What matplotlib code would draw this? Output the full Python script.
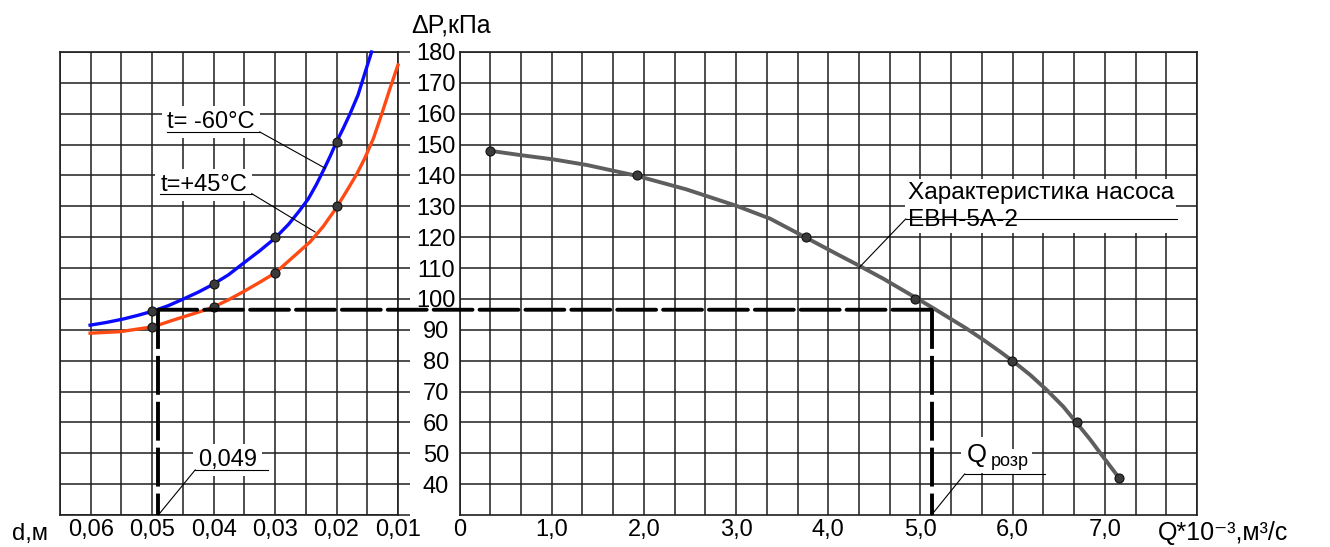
import numpy as np
import matplotlib
matplotlib.use("Agg")
import matplotlib.pyplot as plt
from matplotlib.patches import ConnectionPatch

plt.rcParams["font.family"] = ["Liberation Sans", "DejaVu Sans"]

# values
# pipeline losses vs pipe diameter, t = -60 C
d_cold = [0.0601, 0.0574, 0.0547, 0.0523, 0.0498, 0.0474, 0.0449, 0.0425,
          0.0401, 0.0376, 0.0352, 0.0325, 0.0300, 0.0278, 0.0261, 0.0246,
          0.0233, 0.0220, 0.0210, 0.0200, 0.0189, 0.0178, 0.0165, 0.0154,
          0.0143]
dp_cold = [91.5, 92.4, 93.5, 94.7, 96.1, 97.8, 100.0, 102.2,
           104.7, 107.8, 111.5, 115.6, 119.7, 124.2, 128.4, 132.4,
           137.0, 142.2, 146.4, 150.9, 155.3, 160.0, 166.1, 173.1,
           180.0]
# t = +45 C
d_hot = [0.0601, 0.0552, 0.0525, 0.0498, 0.0474, 0.0449, 0.0425, 0.0401,
         0.0376, 0.0352, 0.0325, 0.0300, 0.0270, 0.0243, 0.0222, 0.0200,
         0.0181, 0.0167, 0.0154, 0.0140, 0.0127, 0.0113, 0.0100]
dp_hot = [88.9, 89.4, 90.2, 91.0, 92.6, 94.2, 95.7, 97.3,
          99.7, 102.3, 105.4, 108.4, 113.7, 118.5, 123.4, 129.6,
          135.8, 140.5, 145.6, 152.0, 159.6, 168.2, 175.8]
d_pts = [0.05, 0.04, 0.03, 0.02]
dp_cold_pts = [96, 105, 120, 151]
dp_hot_pts = [91, 97.5, 108.5, 130]

# pump characteristic EBH-5A-2
q_pump = [0.33, 0.66, 1.02, 1.38, 1.92, 2.46, 3.01, 3.37, 3.75, 4.09,
          4.34, 4.60, 4.96, 5.14, 5.32, 5.50, 5.68, 5.86, 6.01, 6.19,
          6.37, 6.55, 6.69, 6.84, 6.98, 7.15]
dp_pump = [148.0, 146.6, 145.2, 143.4, 139.9, 135.5, 130.1, 126.0, 120.0, 114.6,
           110.7, 106.5, 100.2, 97.0, 93.7, 90.4, 86.8, 83.0, 79.7, 75.4,
           70.5, 65.1, 60.0, 54.5, 48.9, 42.2]
q_pts = [0.33, 1.92, 3.76, 4.94, 5.99, 6.70, 7.15]
dp_pump_pts = [148, 140, 120, 100, 80, 60, 42]

# operating point
d_op = 0.049
q_op = 5.12
dp_op = 96.5

d_ticks = [0.06, 0.05, 0.04, 0.03, 0.02, 0.01]
d_labels = ["0,06", "0,05", "0,04", "0,03", "0,02", "0,01"]
q_ticks = [0, 1, 2, 3, 4, 5, 6, 7]
q_labels = ["0", "1,0", "2,0", "3,0", "4,0", "5,0", "6,0", "7,0"]
dp_ticks = list(range(40, 181, 10))

W, H = 1330, 547
fig = plt.figure(figsize=(W / 100, H / 100), dpi=100)
bot, top = 1 - 515 / H, 1 - 52 / H
axl = fig.add_axes([60 / W, bot, (398 - 60) / W, top - bot])
axr = fig.add_axes([459.5 / W, bot, (1197 - 459.5) / W, top - bot])

GRID = dict(color="#1e1e1e", lw=1.1)
FS = 17

for ax in (axl, axr):
    ax.set_ylim(30, 180)
    ax.set_yticks(range(30, 181, 10))
    ax.set_axisbelow(True)
    ax.grid(True, which="both", **GRID)
    for sp in ax.spines.values():
        sp.set_linewidth(1.2)
        sp.set_color("#1e1e1e")

# left panel: diameter, reversed
axl.set_xlim(0.065, 0.01)
axl.set_xticks(d_ticks)
axl.set_xticklabels(d_labels, fontsize=FS)
axl.set_xticks(np.arange(0.01, 0.0651, 0.005), minor=True)
axl.tick_params(axis="x", which="both", length=0, pad=3)
axl.tick_params(axis="y", left=False, right=True, labelleft=False,
                length=8.6, width=1.1, color="#1e1e1e", direction="out")

# right panel: flow
axr.set_xlim(0, 8)
axr.set_xticks(q_ticks)
axr.set_xticklabels(q_labels, fontsize=FS)
axr.set_xticks(np.arange(0, 8.01, 1 / 3), minor=True)
axr.tick_params(axis="x", which="both", length=0, pad=3)
axr.set_yticks(dp_ticks)
axr.set_yticklabels([str(v) for v in dp_ticks], fontsize=FS)
axr.tick_params(axis="y", length=0, pad=17)
for lb in axr.get_yticklabels():
    lb.set_ha("center")

# curves
axl.plot(d_cold, dp_cold, color="#0a0aff", lw=2.4, zorder=4, clip_on=False,
         solid_joinstyle="round")
axl.plot(d_hot, dp_hot, color="#ff4a14", lw=2.4, zorder=4, clip_on=False,
         solid_joinstyle="round")
DOT = dict(ls="none", marker="o", ms=6.5, mfc="#3a3a3a", mec="#111111",
           mew=0.8, zorder=6, clip_on=False)
axl.plot(d_pts, dp_cold_pts, **DOT)
axl.plot(d_pts, dp_hot_pts, **DOT)
axr.plot(q_pump, dp_pump, color="#5e5e5e", lw=2.8, zorder=4,
         solid_joinstyle="round")
axr.plot(q_pts, dp_pump_pts, **DOT)

# operating point construction
DASH = dict(color="black", lw=2.8, linestyle=(0, (10, 1.8)))
axl.plot([d_op, d_op], [dp_op, 30], zorder=5, clip_on=False, **DASH)
axr.plot([q_op, q_op], [dp_op, 30], zorder=5, clip_on=False, **DASH)
con = ConnectionPatch(xyA=(d_op, dp_op), coordsA=axl.transData,
                      xyB=(q_op, dp_op), coordsB=axr.transData,
                      arrowstyle="-", zorder=5, **DASH)
fig.add_artist(con)

# callouts
BOX = dict(boxstyle="square,pad=0.22", fc="white", ec="none")
LEAD = dict(color="black", lw=0.8, zorder=5)

axl.text(0.0476, 155.3, "t= -60°C", fontsize=FS, va="baseline", bbox=BOX, zorder=3)
axl.plot([0.0476, 0.0325], [154.1, 154.1], **LEAD)
axl.plot([0.0325, 0.0219], [154.1, 142.4], **LEAD)

axl.text(0.0487, 134.9, "t=+45°C", fontsize=FS, va="baseline", bbox=BOX, zorder=3)
axl.plot([0.0488, 0.0338], [134.1, 134.1], **LEAD)
axl.plot([0.0338, 0.0235], [134.1, 121.7], **LEAD)

axl.text(0.0377, 45.9, "0,049", fontsize=FS, ha="center", va="baseline",
         bbox=BOX, zorder=3)
axl.plot([0.0430, 0.0312], [44.6, 44.6], **LEAD)
axl.plot([0.0430, d_op], [44.6, 30], clip_on=False, **LEAD)

axr.text(4.86, 130.0, "Характеристика насоса\nЕВН-5А-2", fontsize=17.6,
         va="center", ha="left", linespacing=1.3, zorder=3,
         bbox=dict(boxstyle="square,pad=0.1", fc="white", ec="none"))
axr.plot([4.84, 7.78], [125.9, 125.9], **LEAD)
axr.plot([4.84, 4.34], [125.9, 110.3], **LEAD)

axr.text(5.505, 47.2, "Q", fontsize=18.5, va="baseline", bbox=BOX, zorder=3)
axr.text(5.76, 46.0, "розр", fontsize=13, va="baseline", bbox=BOX, zorder=3)
axr.plot([5.48, 6.35], [43.3, 43.3], **LEAD)
axr.plot([5.48, q_op], [43.3, 30], clip_on=False, **LEAD)

# axis names
fig.text(30 / W, 1 - 540 / H, "d,м", fontsize=FS, ha="center", va="baseline")
fig.text(1158 / W, 1 - 540 / H, "Q*10⁻³,м³/с", fontsize=18, ha="left", va="baseline")
fig.text(411 / W, 1 - 33 / H, "ΔP,кПа", fontsize=18, ha="left", va="baseline")

fig.savefig("out.png", dpi=100, facecolor="white")
